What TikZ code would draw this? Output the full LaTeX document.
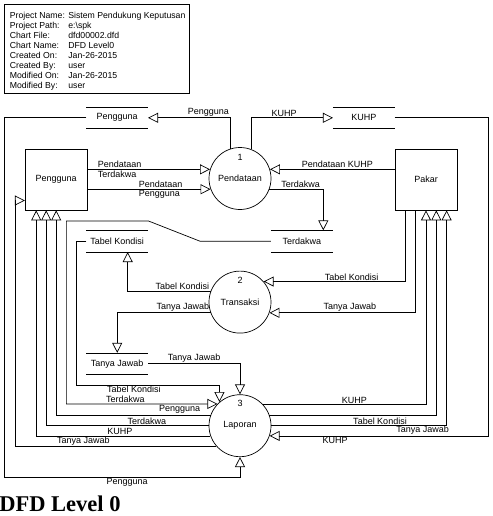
\documentclass[tikz,border=0pt]{standalone}
\usepackage{fontspec}
\setmainfont{Liberation Sans}
\newfontfamily\titlefont{Liberation Serif}
\usetikzlibrary{arrows.meta}

\begin{document}
\begin{tikzpicture}[x=1pt, y=-1pt, node distance=123.6pt, line width=0.7pt,
  font=\fontsize{9}{10}\selectfont,
  entity/.style={draw, minimum width=62pt, minimum height=61pt, inner sep=0pt},
  process/.style={draw, circle, minimum size=62pt, inner sep=0pt},
  store/.style={minimum width=61pt, minimum height=21pt, inner sep=0pt},
  flow/.style={-{Triangle[open, length=10pt, width=10pt]}},
  lbl/.style={inner sep=1pt}]

  \useasboundingbox (0,0) rectangle (492,516);

  % Info box
  \node[draw, anchor=north west, minimum width=185pt, minimum height=89pt] (info) at (4,4) {};
  \node[anchor=north west, inner sep=0pt, font=\fontsize{8.7}{10}\selectfont] (infotxt) at ([xshift=5.5pt, yshift=-7pt]info.north west) {%
    \begin{tabular}{@{}p{58.5pt}@{}l@{}}
      Project Name: & Sistem Pendukung Keputusan\\
      Project Path: & e:\textbackslash spk\\
      Chart File: & dfd00002.dfd\\
      Chart Name: & DFD Level0\\
      Created On: & Jan-26-2015\\
      Created By: & user\\
      Modified On: & Jan-26-2015\\
      Modified By: & user
    \end{tabular}};

  % Entities
  \node[entity] (peng) at (56.2,179.5) {Pengguna};
  \node[entity] (pakar) at (426,179.5) {Pakar};

  % Processes
  \node[process] (pend) at (240,178.5) {Pendataan};
  \node[process, below of=pend] (trans) {Transaksi};
  \node[process, below of=trans] (lap) {Laporan};
  \node (pendno) at ([yshift=21.5pt]pend.center) {1};
  \node (transno) at ([yshift=22pt]trans.center) {2};
  \node (lapno) at ([yshift=22pt]lap.center) {3};

  % Data stores
  \node[store] (pgst) at (117.2,117.8) {Pengguna};
  \node[store] (kuhpst) at (363.8,117.8) {KUHP};
  \node[store] (terst) at (301.8,241.2) {Terdakwa};
  \node[store] (tkst) at (117.2,241.2) {Tabel Kondisi};
  \node[store] (tjst) at (117.2,363.7) {Tanya Jawab};
  \foreach \s in {pgst,kuhpst,terst,tkst,tjst}
    \draw (\s.north west) -- (\s.north east) (\s.south west) -- (\s.south east);

  % Pendataan
  \draw[flow] (peng.east |- pend.163) -- (pend.163)
    node[lbl, pos=0, anchor=south west, xshift=9pt] {Pendataan}
    node[lbl, pos=0, anchor=north west, xshift=9pt] {Terdakwa};
  \draw[flow] (peng.east |- pend.200) -- (pend.200)
    node[lbl, pos=0, anchor=south west, xshift=50pt] {Pendataan}
    node[lbl, pos=0, anchor=north west, xshift=50pt] {Pengguna};
  \draw[flow] (pakar.west |- pend.17) -- (pend.17) node[lbl, pos=.46, above] {Pendataan KUHP};
  \draw[flow] (pend.108) |- (pgst.east) node[lbl, pos=.5, anchor=south east] {Pengguna};
  \draw[flow] (pend.68) |- (kuhpst.west) node[lbl, pos=.7, above] {KUHP};
  \draw[flow] (pend.340) -| ([xshift=21.5pt]terst.north) node[lbl, pos=.29, above] {Terdakwa};

  % Transaksi
  \draw[flow] ([xshift=-20.6pt]pakar.south) |- (trans.41) node[lbl, pos=.69, above] {Tabel Kondisi};
  \draw[flow] ([xshift=-10.3pt]pakar.south) |- (trans.340) node[lbl, pos=.725, above] {Tanya Jawab};
  \draw[flow] (trans.160) -| ([xshift=10.5pt]tkst.south) node[lbl, pos=0, anchor=south east] {Tabel Kondisi};
  \draw[flow] (trans.200) -| (tjst.north) node[lbl, pos=0, anchor=south east] {Tanya Jawab};

  % Laporan inputs
  \draw[flow] (tjst.east) -| (lap.north) node[lbl, pos=.25, above] {Tanya Jawab};
  \draw[flow] (tkst.west) -| (76.7,385) -| (lap.131) node[lbl, pos=.2, below] {Tabel Kondisi};
  \draw[flow] (terst.west) -- ++(-71,0) -- ++(-51.7,-20.3) -- ++(-81.9,0) |- (lap.136)
    node[lbl, pos=.695, above] {Terdakwa};
  \draw[flow] (pgst.west) -| (4.7,477) -| (lap.south) node[lbl, pos=.26, below] {Pengguna};
  \draw[flow] (kuhpst.east) -- ++(93.4,0) |- (lap.341)
    node[lbl, pos=.65, above] {Tanya Jawab}
    node[lbl, pos=.85, below] {KUHP};

  % Laporan outputs
  \draw[flow] (lap.42) -| (pakar.south) node[lbl, pos=.28, above] {KUHP};
  \draw[flow] (lap.20) -| ([xshift=10.3pt]pakar.south);
  \draw[flow] (lap.0) -| ([xshift=20.6pt]pakar.south) node[lbl, pos=.31, above] {Tabel Kondisi};
  \draw[flow] (lap.160) -| (peng.south) node[lbl, pos=.1, above] {Pengguna};
  \draw[flow] (lap.180) -| ([xshift=-10pt]peng.south) node[lbl, pos=.19, above] {Terdakwa};
  \draw[flow] (lap.199) -| ([xshift=-20pt]peng.south) node[lbl, pos=.26, above] {KUHP};
  \coordinate (pengin) at ([yshift=-21pt]peng.west);
  \draw[flow] (lap.221) -| ([xshift=-10pt]pengin) node[lbl, pos=.33, above] {Tanya Jawab} -- (pengin);

  % Title
  \node[anchor=base west, inner sep=0pt, font=\titlefont\bfseries\fontsize{22.5}{24}\selectfont] (title) at (-1,511.5) {DFD Level 0};

\end{tikzpicture}
\end{document}
